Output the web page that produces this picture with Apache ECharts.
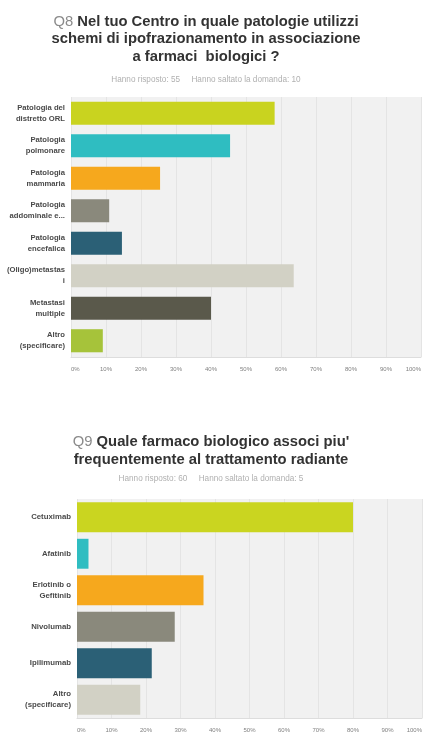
<!DOCTYPE html>
<html>
<head>
<meta charset="utf-8">
<script src="https://cdn.jsdelivr.net/npm/echarts@6/dist/echarts.min.js"></script>
<style>
  html, body { margin: 0; padding: 0; background: #ffffff; }
  #chart { width: 427px; height: 735px; }
</style>
</head>
<body>
<div id="chart"></div>
<script>
// Q8: treatments combined with hypofractionation (percent of 55 respondents)
const q8Categories = [
  'Patologia del\ndistretto ORL',
  'Patologia\npolmonare',
  'Patologia\nmammaria',
  'Patologia\naddominale e...',
  'Patologia\nencefalica',
  '(Oligo)metastas\ni',
  'Metastasi\nmultiple',
  'Altro\n(specificare)'
];
const q8Values = [58.18, 45.45, 25.45, 10.91, 14.55, 63.64, 40.00, 9.09];
const q8Colors = ['#c9d31f', '#2fbdc1', '#f6a81d', '#8a897c', '#2b6076', '#d2d1c5', '#5a594b', '#a6c33a'];

// Q9: biologic drug most often combined with radiotherapy (percent of 60 respondents)
const q9Categories = [
  'Cetuximab',
  'Afatinib',
  'Erlotinib o\nGefitinib',
  'Nivolumab',
  'Ipilimumab',
  'Altro\n(specificare)'
];
const q9Values = [80.00, 3.33, 36.67, 28.33, 21.67, 18.33];
const q9Colors = ['#cad520', '#2fbdc1', '#f6a81d', '#8a897c', '#2b6076', '#d2d1c5'];

const tickLabels = ['0%', '10%', '20%', '30%', '40%', '50%', '60%', '70%', '80%', '90%', '100%'];

const chart = echarts.init(document.getElementById('chart'), null, { renderer: 'canvas' });

const baseFont = '"Liberation Sans", Arial, sans-serif';
const TITLE_SIZE = 14.8;

// one centred line of a question heading
function headingLine(text, cx, cy) {
  return {
    type: 'text',
    x: cx,
    y: cy,
    style: {
      text: text,
      align: 'center',
      verticalAlign: 'middle',
      fontFamily: baseFont,
      fontSize: TITLE_SIZE,
      fontWeight: 'bold',
      fill: '#333333',
      rich: {
        q: { fontFamily: baseFont, fontSize: TITLE_SIZE, fontWeight: 'normal', fill: '#8a8a8a', color: '#8a8a8a' },
        b: { fontFamily: baseFont, fontSize: TITLE_SIZE, fontWeight: 'bold', fill: '#333333', color: '#333333' }
      }
    }
  };
}

// small respondent counts line under each heading
function countsLine(text, cx, cy) {
  return {
    type: 'text',
    x: cx,
    y: cy,
    style: {
      text: text,
      align: 'center',
      verticalAlign: 'middle',
      fontFamily: baseFont,
      fontSize: 8.2,
      fill: '#b0b0b0'
    }
  };
}

function xAxisFor(gridIndex) {
  return {
    type: 'value',
    gridIndex: gridIndex,
    min: 0,
    max: 100,
    interval: 10,
    axisLine: { show: true, lineStyle: { color: '#dddddd', width: 1 } },
    axisTick: { show: false },
    splitLine: { show: true, lineStyle: { color: '#e4e4e4', width: 1 } },
    axisLabel: {
      fontFamily: baseFont,
      fontSize: 6,
      color: '#808080',
      margin: 9,
      alignMinLabel: 'left',
      alignMaxLabel: 'right',
      formatter: function (v) { return tickLabels[Math.round(v / 10)]; }
    }
  };
}

function yAxisFor(gridIndex, cats, size, lh) {
  return {
    type: 'category',
    gridIndex: gridIndex,
    data: cats,
    inverse: true,
    axisLine: { show: false },
    axisTick: { show: false },
    splitLine: { show: false },
    axisLabel: {
      fontFamily: baseFont,
      fontSize: size,
      fontWeight: 'bold',
      color: '#4a4a4a',
      lineHeight: lh,
      margin: 6,
      align: 'right'
    }
  };
}

chart.setOption({
  backgroundColor: '#ffffff',
  animation: false,
  graphic: [
    headingLine('{q|Q8} {b|Nel tuo Centro in quale patologie utilizzi}', 206, 21.5),
    headingLine('schemi di ipofrazionamento in associazione', 206, 39),
    headingLine('a farmaci  biologici ?', 206, 56.5),
    countsLine('Hanno risposto: 55     Hanno saltato la domanda: 10', 206, 80),
    headingLine('{q|Q9} {b|Quale farmaco biologico associ piu\'}', 211, 441.5),
    headingLine('frequentemente al trattamento radiante', 211, 459.5),
    countsLine('Hanno risposto: 60     Hanno saltato la domanda: 5', 211, 479)
  ],
  grid: [
    { left: 71, width: 350, top: 97, height: 260, show: true, backgroundColor: '#f1f1f1', borderWidth: 0, outerBoundsMode: 'none', containLabel: false },
    { left: 77, width: 345, top: 499, height: 219, show: true, backgroundColor: '#f1f1f1', borderWidth: 0, outerBoundsMode: 'none', containLabel: false }
  ],
  xAxis: [xAxisFor(0), xAxisFor(1)],
  yAxis: [yAxisFor(0, q8Categories, 7.7, 11), yAxisFor(1, q9Categories, 7.8, 11)],
  series: [
    {
      type: 'bar',
      xAxisIndex: 0,
      yAxisIndex: 0,
      barCategoryGap: '29%',
      data: q8Values.map(function (v, i) {
        return { value: v, itemStyle: { color: q8Colors[i] } };
      })
    },
    {
      type: 'bar',
      xAxisIndex: 1,
      yAxisIndex: 1,
      barCategoryGap: '18%',
      data: q9Values.map(function (v, i) {
        return { value: v, itemStyle: { color: q9Colors[i] } };
      })
    }
  ]
});
</script>
</body>
</html>
